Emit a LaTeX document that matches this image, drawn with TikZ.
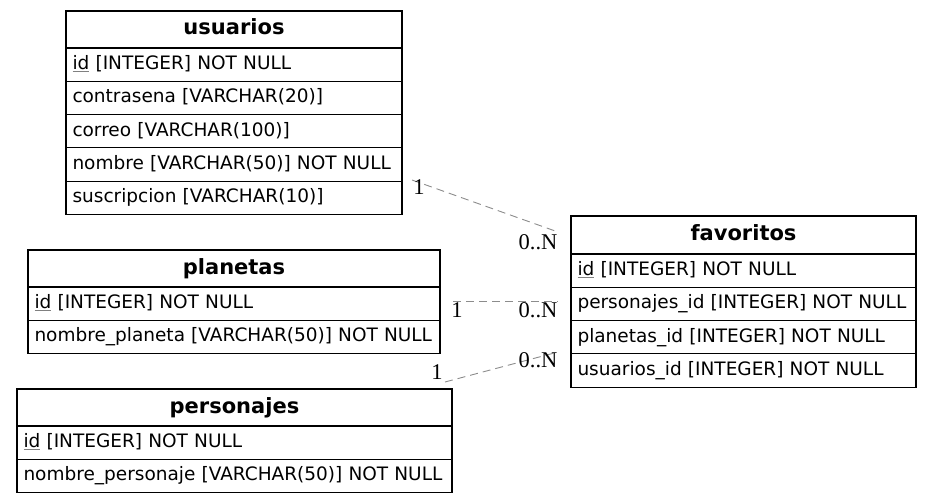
\documentclass[tikz,border=0pt]{standalone}
\usepackage{fontspec}
\setmainfont{DejaVu Sans}
\newfontfamily\lblfont{Liberation Serif}
\usetikzlibrary{positioning}

\newcommand{\pkey}[1]{{\color{gray}\underline{\color{black}#1}}}

\tikzset{
	tblhead/.style={draw,line width=1.1pt,outer sep=0pt,inner xsep=0pt,minimum height=37pt,font=\fontsize{21}{24}\selectfont\bfseries,text height=15pt,text depth=4pt},
	tblrow/.style={draw,line width=1.1pt,outer sep=0pt,inner xsep=6.5pt,minimum height=33.3pt,align=left,font=\fontsize{18.5}{22}\selectfont,text height=13.5pt,text depth=4pt},
	rel/.style={draw=gray!90,line width=0.9pt,dash pattern=on 8pt off 5pt},
	card/.style={font=\lblfont\fontsize{22.5}{24}\selectfont,inner sep=0pt}
}

\begin{document}
\begin{tikzpicture}[x=1pt,y=-1pt]
	\useasboundingbox (0,0) rectangle (932,503);

	%usuarios
	\node[tblhead,minimum width=336pt,anchor=north west] (usr) at (66,11) {usuarios};
	\node[tblrow,text width=323pt,below=0pt of usr] (usr1) {\pkey{id} [INTEGER] NOT NULL};
	\node[tblrow,text width=323pt,below=0pt of usr1] (usr2) {contrasena [VARCHAR(20)]};
	\node[tblrow,text width=323pt,below=0pt of usr2] (usr3) {correo [VARCHAR(100)]};
	\node[tblrow,text width=323pt,below=0pt of usr3] (usr4) {nombre [VARCHAR(50)] NOT NULL};
	\node[tblrow,text width=323pt,below=0pt of usr4] (usr5) {suscripcion [VARCHAR(10)]};

	%planetas
	\node[tblhead,minimum width=412pt,anchor=north west] (pla) at (28,250) {planetas};
	\node[tblrow,text width=399pt,below=0pt of pla] (pla1) {\pkey{id} [INTEGER] NOT NULL};
	\node[tblrow,text width=399pt,below=0pt of pla1] (pla2) {nombre\_planeta [VARCHAR(50)] NOT NULL};

	%personajes
	\node[tblhead,minimum width=435pt,anchor=north west] (per) at (17,389) {personajes};
	\node[tblrow,text width=422pt,below=0pt of per] (per1) {\pkey{id} [INTEGER] NOT NULL};
	\node[tblrow,text width=422pt,below=0pt of per1] (per2) {nombre\_personaje [VARCHAR(50)] NOT NULL};

	%favoritos
	\node[tblhead,minimum width=345pt,minimum height=38pt,anchor=north west] (fav) at (571,216) {favoritos};
	\node[tblrow,text width=332pt,below=0pt of fav] (fav1) {\pkey{id} [INTEGER] NOT NULL};
	\node[tblrow,text width=332pt,below=0pt of fav1] (fav2) {personajes\_id [INTEGER] NOT NULL};
	\node[tblrow,text width=332pt,below=0pt of fav2] (fav3) {planetas\_id [INTEGER] NOT NULL};
	\node[tblrow,text width=332pt,below=0pt of fav3] (fav4) {usuarios\_id [INTEGER] NOT NULL};

	%connector ends
	\coordinate (usrA) at (412,180);	\coordinate (favU) at (558,232);
	\coordinate (plaA) at (453,301);	\coordinate (favP) at (558,301);
	\coordinate (perA) at (445,382);	\coordinate (favC) at (558,352);

	%relations
	\draw[rel] (usrA)--(favU);	%usuarios | favoritos
	\draw[rel] (plaA)--(favP);	%planetas | favoritos
	\draw[rel] (perA)--(favC);	%personajes | favoritos

	%cardinalities
	\node[card] (usrOne) at (419,187) {1};		\node[card] (usrMany) at (538,242) {0..N};
	\node[card] (plaOne) at (457,310) {1};		\node[card] (plaMany) at (538,310) {0..N};
	\node[card] (perOne) at (437,372) {1};		\node[card] (perMany) at (538,360) {0..N};
\end{tikzpicture}
\end{document}
